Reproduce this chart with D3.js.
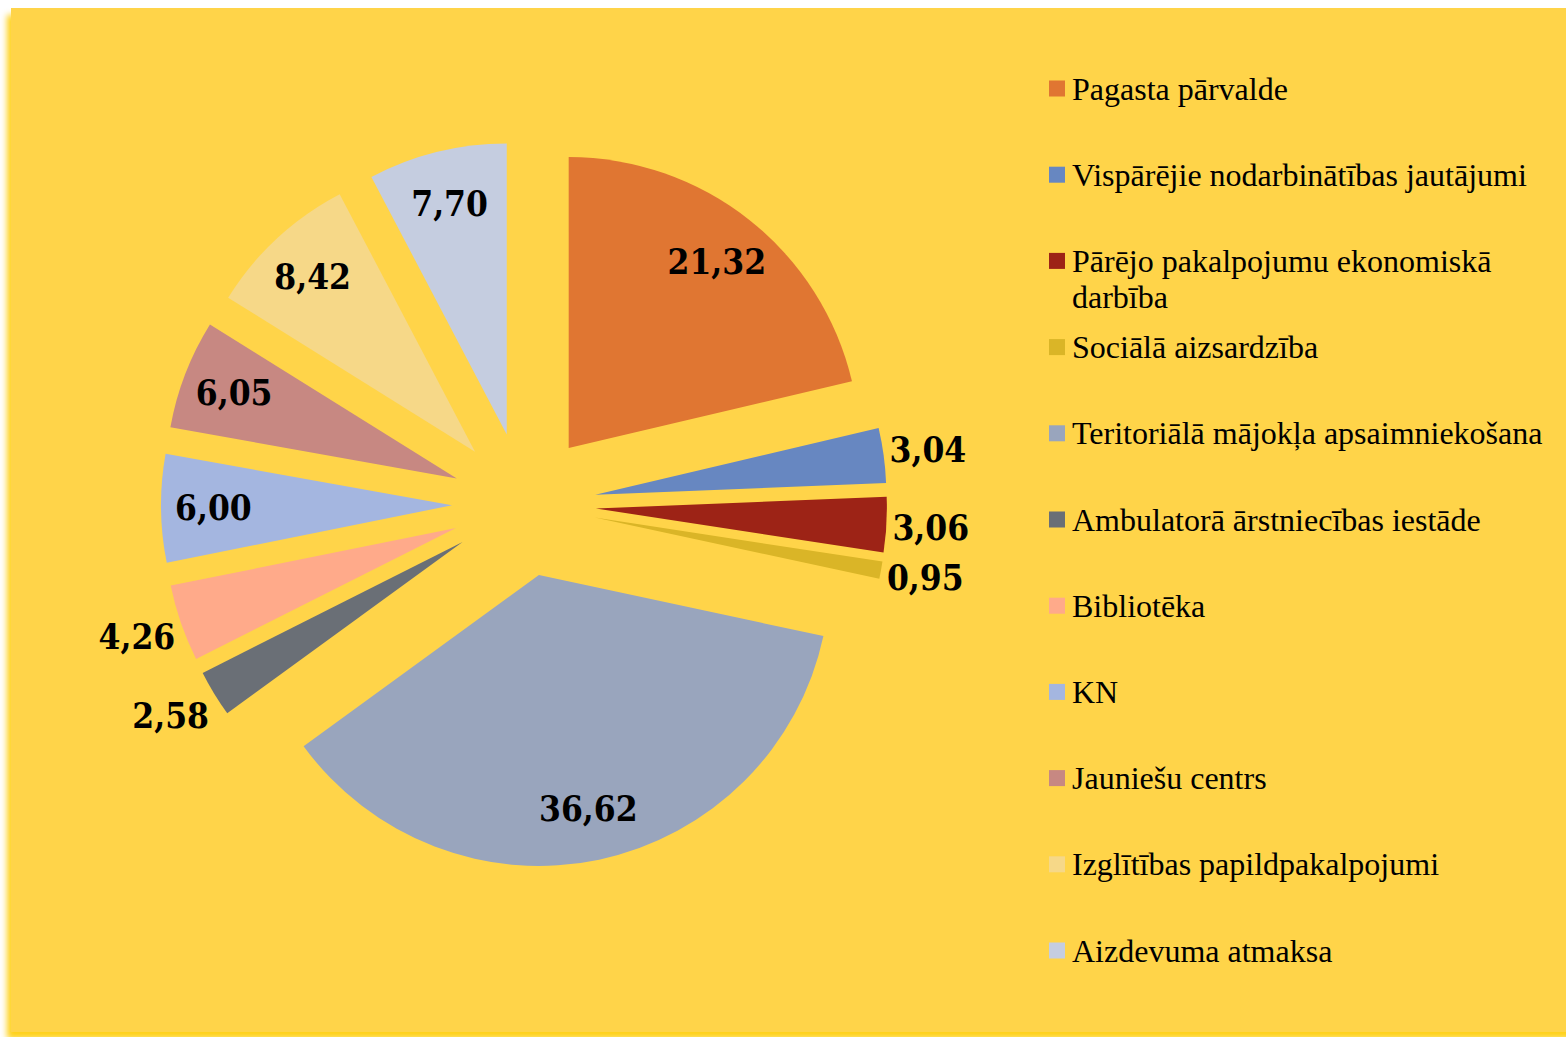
<!DOCTYPE html>
<html>
<head>
<meta charset="utf-8">
<script src="https://cdn.jsdelivr.net/npm/d3@7"></script>
<style>
  body { margin: 0; background: #fff; }
  .legtxt { font-family: "Liberation Serif", "Times New Roman", serif; font-size: 32px; fill: #000; }
  .vallbl { font-family: "DejaVu Serif Condensed", "DejaVu Serif", serif; font-stretch: condensed; font-weight: bold; font-size: 35px; fill: #000; }
</style>
</head>
<body>
<div id="chart"></div>
<script>
// ---------------- données ----------------
const categories = [
  "Pagasta pārvalde",
  "Vispārējie nodarbinātības jautājumi",
  "Pārējo pakalpojumu ekonomiskā darbība",
  "Sociālā aizsardzība",
  "Teritoriālā mājokļa apsaimniekošana",
  "Ambulatorā ārstniecības iestāde",
  "Bibliotēka",
  "KN",
  "Jauniešu centrs",
  "Izglītības papildpakalpojumi",
  "Aizdevuma atmaksa"
];
const values = [21.32, 3.04, 3.06, 0.95, 36.62, 2.58, 4.26, 6.00, 6.05, 8.42, 7.70];
const colors = ["#E07632", "#6787C1", "#9D2316", "#DAB527", "#99A5BD", "#6A6F76",
                "#FFAA8A", "#A4B6E0", "#C78882", "#F6D888", "#C5CDE0"];

// ---------------- dimensions ----------------
const width = 1566, height = 1037;
const cx = 524, cy = 504.5;      // centre du camembert
const R = 291;                   // rayon
const explode = 72;              // éclatement des parts

const svg = d3.select("#chart").append("svg")
  .attr("width", width)
  .attr("height", height);

// fond jaune avec ombre
const defs = svg.append("defs");
const shadow = defs.append("filter").attr("id", "shadow")
  .attr("x", "-5%").attr("y", "-5%").attr("width", "110%").attr("height", "110%");
shadow.append("feDropShadow")
  .attr("dx", -4).attr("dy", 7).attr("stdDeviation", 3)
  .attr("flood-color", "#FFCC00").attr("flood-opacity", 0.9);

svg.append("rect")
  .attr("x", 11).attr("y", 8)
  .attr("width", width).attr("height", 1024)
  .attr("fill", "#FFD44A")
  .attr("filter", "url(#shadow)");

// ---------------- camembert ----------------
const pie = d3.pie().sort(null).value(d => d);
const arcs = pie(values);
const arc = d3.arc().innerRadius(0).outerRadius(R);

const mid = d => (d.startAngle + d.endAngle) / 2;
const polar = (a, r) => [Math.sin(a) * r, -Math.cos(a) * r];

const g = svg.append("g").attr("transform", `translate(${cx},${cy})`);

g.selectAll("path.slice")
  .data(arcs)
  .enter()
  .append("path")
  .attr("class", "slice")
  .attr("d", arc)
  .attr("transform", d => {
    const p = polar(mid(d), explode);
    return `translate(${p[0]},${p[1]})`;
  })
  .attr("fill", (d, i) => colors[i]);

// étiquettes de valeurs
const fmt = v => v.toFixed(2).replace(".", ",");

g.selectAll("text.vallbl")
  .data(arcs)
  .enter()
  .append("text")
  .attr("class", "vallbl")
  .each(function (d) {
    const a = mid(d);
    const t = d3.select(this).text(fmt(d.data));
    if (d.data >= 5) {
      // à l'intérieur de la part
      const p = polar(a, explode + 0.82 * R);
      t.attr("x", p[0]).attr("y", p[1]).attr("dy", "0.36em").attr("text-anchor", "middle");
    } else {
      // à l'extérieur
      const p = polar(a, explode + R + 6);
      t.attr("x", p[0])
       .attr("y", p[1] - Math.cos(a) * 36)
       .attr("dy", "0.36em")
       .attr("text-anchor", Math.sin(a) > 0 ? "start" : "end");
    }
  });

// ---------------- légende ----------------
const legX = 1049, legY0 = 89, legStep = 86.2, box = 16, maxW = 480, lineH = 36.3;

const legend = svg.append("g");
const items = legend.selectAll("g")
  .data(categories)
  .enter()
  .append("g")
  .attr("transform", (d, i) => `translate(${legX},${legY0 + i * legStep})`);

items.append("rect")
  .attr("x", 0).attr("y", -box / 2 - 0.5)
  .attr("width", box).attr("height", box)
  .attr("fill", (d, i) => colors[i]);

items.append("text")
  .attr("class", "legtxt")
  .attr("x", 23)
  .attr("y", 10.5)
  .each(function (d) {
    // retour à la ligne si le texte est trop long
    const t = d3.select(this);
    const words = d.split(" ");
    let line = [], ts = t.append("tspan").attr("x", 23);
    words.forEach(w => {
      line.push(w);
      ts.text(line.join(" "));
      if (ts.node().getComputedTextLength() > maxW && line.length > 1) {
        line.pop();
        ts.text(line.join(" "));
        line = [w];
        ts = t.append("tspan").attr("x", 23).attr("dy", lineH).text(w);
      }
    });
  });
</script>
</body>
</html>
